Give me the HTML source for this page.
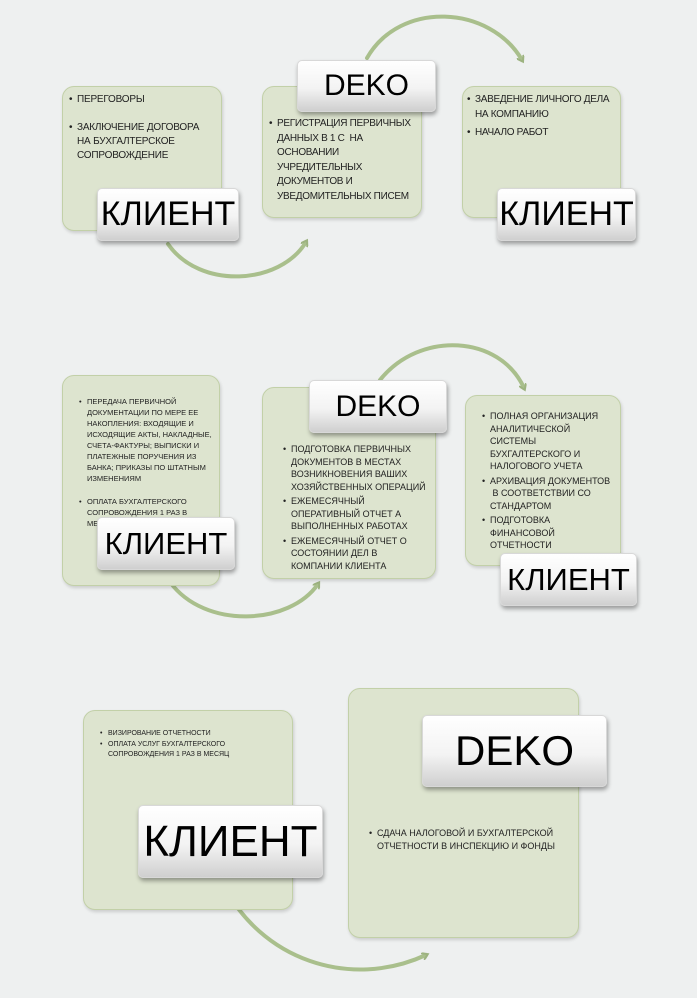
<!DOCTYPE html>
<html><head><meta charset="utf-8"><style>
body{margin:0;width:697px;height:998px;background:#eef0f0;position:relative;overflow:hidden;font-family:"Liberation Sans","DejaVu Sans",sans-serif;}
.b{position:absolute;background:#dde4cf;border:1.5px solid #c2d0a8;border-radius:12px;box-shadow:1px 2px 3px rgba(0,0,0,0.15);box-sizing:border-box;color:#222;}
.b ul{margin:0;padding:0;list-style:none}
.b li{position:relative;padding-left:8px;text-transform:uppercase}
.b li:before{content:"•";position:absolute;left:0}
.l{position:absolute;background:linear-gradient(#ffffff,#f3f3f3 55%,#cfcfcf);border-radius:5px;box-shadow:1px 3px 4px rgba(0,0,0,0.35);display:flex;align-items:center;justify-content:center;color:#000;box-sizing:border-box;border:1px solid #d8d8d8}
svg{position:absolute;left:0;top:0}
</style></head><body>
<svg width="697" height="998">
<defs><marker id="a" markerWidth="8" markerHeight="8" refX="4" refY="4" orient="auto" markerUnits="userSpaceOnUse"><path d="M0,0 L6,4 L0,8" fill="none" stroke="#9db380" stroke-width="2"/></marker></defs>
<g fill="none" stroke="#a9bf8c" stroke-width="4" stroke-linecap="round">
<path d="M367,58 C400,0 490,5 522,60" marker-end="url(#a)"/>
<path d="M168,244 C200,290 280,285 306,242" marker-end="url(#a)"/>
<path d="M380,380 C420,330 500,335 524,388" marker-end="url(#a)"/>
<path d="M170,582 C205,630 290,625 318,584" marker-end="url(#a)"/>
<path d="M222,882 C260,960 350,990 426,955" marker-end="url(#a)"/>
</g></svg>

<div class="b" style="left:62px;top:86px;width:160px;height:145px;padding:6px 6px;font-size:10px;line-height:14px;letter-spacing:-0.2px">
<ul><li>Переговоры</li><li style="margin-top:14px">Заключение договора на бухгалтерское сопровождение</li></ul></div>
<div class="l" style="left:97px;top:188px;width:142px;height:53px;font-size:34px">КЛИЕНТ</div>

<div class="b" style="left:262px;top:86px;width:160px;height:132px;padding:30px 6px 0 6px;font-size:10px;line-height:14.5px;letter-spacing:-0.3px">
<ul><li>Регистрация первичных данных в 1 С &nbsp;на основании учредительных документов и уведомительных писем</li></ul></div>
<div class="l" style="left:297px;top:60px;width:139px;height:52px;font-size:30px">DEKO</div>

<div class="b" style="left:462px;top:86px;width:159px;height:132px;padding:6px 4px;font-size:10px;line-height:14.5px;letter-spacing:-0.3px">
<ul><li>Заведение личного дела на компанию</li><li style="margin-top:4px">Начало работ</li></ul></div>
<div class="l" style="left:497px;top:188px;width:139px;height:53px;font-size:34px">КЛИЕНТ</div>

<div class="b" style="left:62px;top:375px;width:158px;height:211px;padding:20px 6px 0 16px;font-size:7.5px;line-height:11px">
<ul><li>Передача первичной документации по мере ее накопления: входящие и исходящие акты, накладные, счета-фактуры; выписки и платежные поручения из банка; приказы по штатным изменениям</li><li style="margin-top:12px">Оплата бухгалтерского сопровождения 1 раз в месяц</li></ul></div>
<div class="l" style="left:97px;top:517px;width:138px;height:53px;font-size:31px">КЛИЕНТ</div>

<div class="b" style="left:262px;top:387px;width:174px;height:192px;padding:55px 6px 0 20px;font-size:9px;line-height:12.5px">
<ul><li>Подготовка первичных документов в местах возникновения ваших хозяйственных операций</li><li style="margin-top:2px">Ежемесячный оперативный отчет а выполненных работах</li><li style="margin-top:2px">Ежемесячный отчет о состоянии дел в компании клиента</li></ul></div>
<div class="l" style="left:309px;top:380px;width:138px;height:53px;font-size:30px">DEKO</div>

<div class="b" style="left:465px;top:395px;width:156px;height:171px;padding:14px 6px 0 16px;font-size:9px;line-height:12.5px">
<ul><li>Полная организация аналитической системы бухгалтерского и налогового учета</li><li style="margin-top:2px">Архивация документов &nbsp;в соответствии со стандартом</li><li style="margin-top:2px">Подготовка финансовой отчетности</li></ul></div>
<div class="l" style="left:500px;top:553px;width:137px;height:53px;font-size:31px">КЛИЕНТ</div>

<div class="b" style="left:83px;top:710px;width:210px;height:200px;padding:18px 6px 0 16px;font-size:7px;line-height:10.5px">
<ul><li>Визирование отчетности</li><li>Оплата услуг бухгалтерского сопровождения 1 раз в месяц</li></ul></div>
<div class="l" style="left:138px;top:805px;width:185px;height:73px;font-size:44px">КЛИЕНТ</div>

<div class="b" style="left:348px;top:688px;width:231px;height:250px;padding:138px 6px 0 20px;font-size:9px;line-height:12.5px">
<ul><li>Сдача налоговой и бухгалтерской отчетности в инспекцию и фонды</li></ul></div>
<div class="l" style="left:422px;top:715px;width:185px;height:72px;font-size:42px">DEKO</div>
</body></html>
